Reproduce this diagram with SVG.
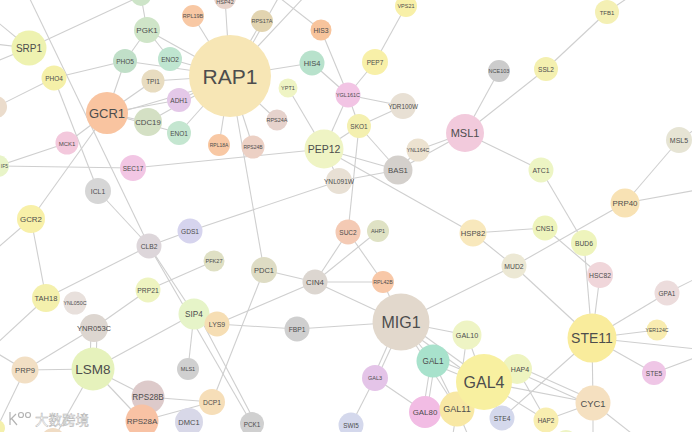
<svg xmlns="http://www.w3.org/2000/svg" width="692" height="432" viewBox="0 0 692 432">
<style>
.e line{stroke:#cfcfcf;stroke-width:1.1;fill:none}
text{font-family:"Liberation Sans",Arial,sans-serif;fill:#4d4d4d;text-anchor:middle}
.wm{font-family:"Liberation Sans","Noto Sans CJK SC",sans-serif;fill:#ffffff;stroke:#b4b4b4;stroke-width:0.5;font-size:13.5px;text-anchor:start}
.logo{fill:none;stroke:#b4b4b4;stroke-width:1.2}
</style>
<rect width="692" height="432" fill="#ffffff"/>
<g id="connectors" class="e">
<line x1="230" y1="76" x2="147" y2="30"/><line x1="230" y1="76" x2="125" y2="61"/><line x1="230" y1="76" x2="170" y2="59"/><line x1="230" y1="76" x2="153" y2="81"/><line x1="230" y1="76" x2="179" y2="100"/><line x1="230" y1="76" x2="179" y2="133"/><line x1="230" y1="76" x2="148" y2="122"/><line x1="230" y1="76" x2="193" y2="16"/><line x1="230" y1="76" x2="225" y2="-2"/><line x1="230" y1="76" x2="262" y2="21"/><line x1="234" y1="76" x2="280" y2="-5"/><line x1="230" y1="76" x2="306" y2="-5"/><line x1="230" y1="76" x2="312" y2="63"/><line x1="230" y1="76" x2="277" y2="120"/><line x1="230" y1="76" x2="219" y2="145"/><line x1="230" y1="76" x2="253" y2="147"/><line x1="230" y1="76" x2="264" y2="270"/>
<line x1="147" y1="30" x2="141" y2="-4"/><line x1="147" y1="30" x2="170" y2="59"/><line x1="147" y1="30" x2="125" y2="61"/>
<line x1="107" y1="113" x2="125" y2="61"/><line x1="107" y1="113" x2="153" y2="81"/><line x1="107" y1="116" x2="230" y2="80"/><line x1="107" y1="113" x2="179" y2="100"/><line x1="107" y1="113" x2="148" y2="122"/><line x1="107" y1="113" x2="179" y2="133"/><line x1="107" y1="113" x2="67" y2="143"/><line x1="107" y1="113" x2="31" y2="219"/>
<line x1="54" y1="78" x2="125" y2="61"/><line x1="54" y1="78" x2="-4" y2="107"/>
<line x1="29" y1="48" x2="141" y2="-4"/><line x1="29" y1="48" x2="-5" y2="20"/><line x1="29" y1="48" x2="-5" y2="44"/><line x1="29" y1="48" x2="-5" y2="62"/>
<line x1="28" y1="-5" x2="149" y2="246"/><line x1="54" y1="78" x2="98" y2="191"/>
<line x1="67" y1="143" x2="-2" y2="166"/><line x1="-2" y1="166" x2="133" y2="168"/>
<line x1="98" y1="191" x2="149" y2="246"/><line x1="149" y1="246" x2="190" y2="231"/><line x1="149" y1="246" x2="46" y2="298"/><line x1="149" y1="246" x2="194" y2="314"/><line x1="149" y1="246" x2="252" y2="424"/>
<line x1="31" y1="219" x2="46" y2="298"/><line x1="31" y1="219" x2="-5" y2="250"/><line x1="46" y1="298" x2="-5" y2="345"/>
<line x1="94" y1="328" x2="148" y2="290"/><line x1="91" y1="328" x2="90" y2="369"/><line x1="97" y1="328" x2="96" y2="369"/><line x1="94" y1="328" x2="25" y2="370"/>
<line x1="25" y1="370" x2="93" y2="369"/><line x1="25" y1="370" x2="-5" y2="352"/><line x1="25" y1="370" x2="-3" y2="428"/>
<line x1="93" y1="369" x2="194" y2="314"/><line x1="93" y1="369" x2="148" y2="397"/><line x1="93" y1="369" x2="142" y2="421"/><line x1="93" y1="369" x2="53" y2="440"/>
<line x1="148" y1="290" x2="214" y2="261"/><line x1="148" y1="397" x2="212" y2="402"/><line x1="142" y1="421" x2="212" y2="402"/>
<line x1="194" y1="314" x2="217" y2="324"/><line x1="194" y1="314" x2="188" y2="369"/><line x1="198" y1="314" x2="256" y2="424"/>
<line x1="217" y1="324" x2="297" y2="329"/><line x1="217" y1="324" x2="315" y2="282"/>
<line x1="264" y1="270" x2="212" y2="402"/><line x1="264" y1="270" x2="315" y2="282"/>
<line x1="315" y1="282" x2="401" y2="322"/><line x1="315" y1="282" x2="348" y2="232"/><line x1="315" y1="282" x2="378" y2="231"/><line x1="315" y1="282" x2="383" y2="282"/>
<line x1="348" y1="232" x2="383" y2="282"/><line x1="383" y1="282" x2="401" y2="322"/><line x1="297" y1="329" x2="401" y2="322"/>
<line x1="133" y1="168" x2="324" y2="149"/><line x1="190" y1="231" x2="339" y2="181"/>
<line x1="321" y1="30" x2="276" y2="-5"/><line x1="321" y1="30" x2="348" y2="95"/><line x1="312" y1="63" x2="348" y2="95"/>
<line x1="288" y1="88" x2="324" y2="149"/><line x1="348" y1="95" x2="324" y2="149"/><line x1="348" y1="95" x2="375" y2="62"/><line x1="375" y1="62" x2="406" y2="6"/><line x1="348" y1="95" x2="403" y2="106"/><line x1="348" y1="95" x2="359" y2="126"/>
<line x1="359" y1="126" x2="403" y2="106"/><line x1="359" y1="126" x2="324" y2="149"/><line x1="359" y1="126" x2="398" y2="170"/><line x1="359" y1="126" x2="348" y2="232"/>
<line x1="418" y1="150" x2="398" y2="170"/><line x1="418" y1="150" x2="465" y2="133"/><line x1="398" y1="170" x2="465" y2="133"/>
<line x1="324" y1="149" x2="398" y2="170"/><line x1="324" y1="149" x2="339" y2="181"/><line x1="339" y1="181" x2="398" y2="170"/><line x1="324" y1="149" x2="473" y2="233"/>
<line x1="465" y1="133" x2="499" y2="71"/><line x1="465" y1="133" x2="546" y2="69"/><line x1="546" y1="69" x2="607" y2="12"/><line x1="607" y1="12" x2="632" y2="-5"/><line x1="465" y1="133" x2="541" y2="170"/>
<line x1="541" y1="170" x2="584" y2="243"/><line x1="545" y1="228" x2="473" y2="233"/><line x1="545" y1="228" x2="600" y2="275"/>
<line x1="584" y1="243" x2="592" y2="338"/><line x1="600" y1="275" x2="592" y2="338"/>
<line x1="625" y1="203" x2="514" y2="266"/><line x1="625" y1="203" x2="679" y2="140"/><line x1="625" y1="203" x2="697" y2="190"/><line x1="679" y1="140" x2="697" y2="128"/>
<line x1="514" y1="266" x2="473" y2="233"/><line x1="514" y1="266" x2="401" y2="322"/><line x1="514" y1="266" x2="592" y2="338"/>
<line x1="592" y1="338" x2="667" y2="293"/><line x1="592" y1="338" x2="657" y2="330"/><line x1="592" y1="338" x2="654" y2="373"/><line x1="592" y1="338" x2="593" y2="403"/><line x1="592" y1="338" x2="502" y2="418"/><line x1="592" y1="338" x2="697" y2="349"/>
<line x1="654" y1="373" x2="697" y2="357"/><line x1="667" y1="293" x2="697" y2="278"/>
<line x1="517" y1="366" x2="593" y2="400"/><line x1="517" y1="372" x2="593" y2="406"/><line x1="593" y1="403" x2="546" y2="420"/><line x1="593" y1="403" x2="593" y2="440"/><line x1="593" y1="403" x2="640" y2="440"/>
<line x1="517" y1="369" x2="546" y2="420"/><line x1="484" y1="382" x2="593" y2="403"/><line x1="484" y1="382" x2="546" y2="420"/><line x1="484" y1="382" x2="517" y2="369"/>
<line x1="401" y1="322" x2="467" y2="335"/><line x1="401" y1="322" x2="433" y2="361"/><line x1="401" y1="319" x2="484" y2="379"/><line x1="401" y1="325" x2="484" y2="385"/><line x1="398" y1="322" x2="373" y2="378"/><line x1="403" y1="322" x2="377" y2="378"/><line x1="401" y1="322" x2="457" y2="409"/>
<line x1="431" y1="361" x2="423" y2="412"/><line x1="435" y1="361" x2="427" y2="412"/><line x1="433" y1="358" x2="484" y2="379"/><line x1="433" y1="364" x2="484" y2="385"/><line x1="433" y1="361" x2="457" y2="409"/>
<line x1="375" y1="378" x2="425" y2="412"/><line x1="375" y1="378" x2="351" y2="425"/>
<line x1="467" y1="335" x2="484" y2="382"/><line x1="467" y1="335" x2="457" y2="409"/><line x1="484" y1="382" x2="502" y2="418"/>
<line x1="457" y1="409" x2="452" y2="440"/><line x1="457" y1="409" x2="470" y2="440"/>
</g>
<g id="n_top1"><circle cx="141" cy="-4" r="10" fill="#cde4c8"/></g>
<g id="n_left1"><circle cx="-4" cy="107" r="11" fill="#ebdccc"/></g>
<g id="n_bl1"><circle cx="-3" cy="428" r="8" fill="#f4f0ac"/></g>
<g id="n_b2"><circle cx="53" cy="440" r="12" fill="#f0dcc4"/></g>
<g id="n_b3"><circle cx="566" cy="441" r="11" fill="#eef4c4"/></g>
<g id="RAP1"><circle cx="230" cy="76" r="41" fill="#f7e6b5"/><text x="230" y="84" font-size="21">RAP1</text></g>
<g id="GCR1"><circle cx="107" cy="113" r="21" fill="#f9c4a0"/><text x="107" y="118" font-size="13">GCR1</text></g>
<g id="SRP1"><circle cx="29" cy="48" r="17.5" fill="#eef2b0"/><text x="29" y="52" font-size="10">SRP1</text></g>
<g id="PHO4"><circle cx="54" cy="78" r="12.5" fill="#f5f0a8"/><text x="54" y="80.5" font-size="6.5">PHO4</text></g>
<g id="PGK1"><circle cx="147" cy="30" r="13" fill="#cfe5c8"/><text x="147" y="33" font-size="8">PGK1</text></g>
<g id="PHO5"><circle cx="125" cy="61" r="12" fill="#c0dfc8"/><text x="125" y="63.5" font-size="6.5">PHO5</text></g>
<g id="ENO2"><circle cx="170" cy="59" r="12" fill="#bfe5d0"/><text x="170" y="61.5" font-size="6.5">ENO2</text></g>
<g id="TPI1"><circle cx="153" cy="81" r="11.5" fill="#e8dcc0"/><text x="153" y="83.5" font-size="6.5">TPI1</text></g>
<g id="CDC19"><circle cx="148" cy="122" r="14" fill="#d4e0c4"/><text x="148" y="125" font-size="7.8">CDC19</text></g>
<g id="ADH1"><circle cx="179" cy="100" r="12" fill="#e4c8e8"/><text x="179" y="102.5" font-size="6.5">ADH1</text></g>
<g id="ENO1"><circle cx="179" cy="133" r="12" fill="#c4e6d0"/><text x="179" y="135.5" font-size="6.5">ENO1</text></g>
<g id="MCK1"><circle cx="67" cy="143" r="11.5" fill="#f3c8dc"/><text x="67" y="145.5" font-size="6">MCK1</text></g>
<g id="RPL19B"><circle cx="193" cy="16" r="11" fill="#f8c8a4"/><text x="193" y="18" font-size="5.5">RPL19B</text></g>
<g id="HSP42"><circle cx="225" cy="-2" r="11" fill="#e8d4cc"/><text x="225" y="4" font-size="5.5">HSP42</text></g>
<g id="RPS17A"><circle cx="262" cy="21" r="11" fill="#e2d4b0"/><text x="262" y="23" font-size="5.5">RPS17A</text></g>
<g id="HIS3"><circle cx="321" cy="30" r="10.5" fill="#f8c49c"/><text x="321" y="32.5" font-size="6.8">HIS3</text></g>
<g id="HIS4"><circle cx="312" cy="63" r="12.5" fill="#b8e2cc"/><text x="312" y="65.5" font-size="7.5">HIS4</text></g>
<g id="YPT1"><circle cx="288" cy="88" r="9.5" fill="#eff4c4"/><text x="288" y="90" font-size="5.5">YPT1</text></g>
<g id="RPS24A"><circle cx="277" cy="120" r="10.5" fill="#e6d2cc"/><text x="277" y="122" font-size="5.5">RPS24A</text></g>
<g id="RPL18A"><circle cx="219" cy="145" r="11" fill="#f8c8a4"/><text x="219" y="147" font-size="5">RPL18A</text></g>
<g id="RPS24B"><circle cx="253" cy="147" r="11.5" fill="#ecd0c4"/><text x="253" y="149" font-size="5">RPS24B</text></g>
<g id="PEP12"><circle cx="324" cy="149" r="19.5" fill="#eff4c4"/><text x="324" y="153" font-size="10.5">PEP12</text></g>
<g id="YGL161C"><circle cx="348" cy="95" r="12.5" fill="#f2c4e4"/><text x="348" y="97" font-size="5.5">YGL161C</text></g>
<g id="PEP7"><circle cx="375" cy="62" r="13" fill="#f8f0a8"/><text x="375" y="64.5" font-size="6.5">PEP7</text></g>
<g id="VPS21"><circle cx="406" cy="6" r="11" fill="#f8f0a8"/><text x="406" y="8" font-size="5.5">VPS21</text></g>
<g id="YDR100W"><circle cx="403" cy="106" r="13" fill="#e8e0d4"/><text x="403" y="108.5" font-size="6.3">YDR100W</text></g>
<g id="SKO1"><circle cx="359" cy="126" r="12" fill="#f4f0b0"/><text x="359" y="128.5" font-size="6.5">SKO1</text></g>
<g id="NCE103"><circle cx="499" cy="71" r="11" fill="#cccccc"/><text x="499" y="73" font-size="5.5">NCE103</text></g>
<g id="MSL1"><circle cx="465" cy="133" r="19" fill="#f2cadc"/><text x="465" y="137" font-size="11">MSL1</text></g>
<g id="TFB1"><circle cx="607" cy="12" r="12" fill="#f4f0b4"/><text x="607" y="14.5" font-size="6">TFB1</text></g>
<g id="SSL2"><circle cx="546" cy="69" r="12" fill="#f4f0b0"/><text x="546" y="71.5" font-size="6.5">SSL2</text></g>
<g id="MSL5"><circle cx="679" cy="140" r="13" fill="#e6e4d4"/><text x="679" y="142.5" font-size="7">MSL5</text></g>
<g id="YNL164C"><circle cx="418" cy="150" r="11.5" fill="#ece2d0"/><text x="418" y="152" font-size="5.2">YNL164C</text></g>
<g id="BAS1"><circle cx="398" cy="170" r="14.5" fill="#d4d0cc"/><text x="398" y="173" font-size="7.8">BAS1</text></g>
<g id="YNL091W"><circle cx="339" cy="181" r="13" fill="#e8e0d4"/><text x="339" y="183.5" font-size="6.6">YNL091W</text></g>
<g id="SUC2"><circle cx="348" cy="232" r="12.5" fill="#f4cab4"/><text x="348" y="234.5" font-size="6.5">SUC2</text></g>
<g id="AHP1"><circle cx="378" cy="231" r="11" fill="#dfe2c4"/><text x="378" y="233" font-size="5.4">AHP1</text></g>
<g id="RPL42B"><circle cx="383" cy="282" r="11" fill="#f8c8a8"/><text x="383" y="284" font-size="5.3">RPL42B</text></g>
<g id="HSP82"><circle cx="473" cy="233" r="13.5" fill="#f8e8bc"/><text x="473" y="236" font-size="7.7">HSP82</text></g>
<g id="MUD2"><circle cx="514" cy="266" r="12.5" fill="#ece8d4"/><text x="514" y="268.5" font-size="6.8">MUD2</text></g>
<g id="ATC1"><circle cx="541" cy="170" r="12.5" fill="#edf5c4"/><text x="541" y="172.5" font-size="6.9">ATC1</text></g>
<g id="PRP40"><circle cx="625" cy="203" r="14.5" fill="#f8e2b4"/><text x="625" y="206" font-size="7.9">PRP40</text></g>
<g id="CNS1"><circle cx="545" cy="228" r="12.5" fill="#eef4bc"/><text x="545" y="230.5" font-size="6.9">CNS1</text></g>
<g id="BUD6"><circle cx="584" cy="243" r="13" fill="#eef4bc"/><text x="584" y="245.5" font-size="6.7">BUD6</text></g>
<g id="HSC82"><circle cx="600" cy="275" r="13" fill="#f0d6da"/><text x="600" y="277.5" font-size="6.8">HSC82</text></g>
<g id="GPA1"><circle cx="667" cy="293" r="12.5" fill="#ecdcdc"/><text x="667" y="295.5" font-size="6.5">GPA1</text></g>
<g id="YER124C"><circle cx="657" cy="330" r="10.5" fill="#f8ecb0"/><text x="657" y="332" font-size="5.2">YER124C</text></g>
<g id="STE11"><circle cx="592" cy="338" r="24.5" fill="#f9ec9c"/><text x="592" y="343" font-size="14">STE11</text></g>
<g id="STE5"><circle cx="654" cy="373" r="12" fill="#efc6e6"/><text x="654" y="375.5" font-size="6.6">STE5</text></g>
<g id="CYC1"><circle cx="593" cy="403" r="17.5" fill="#f5e0c0"/><text x="593" y="406.5" font-size="9.4">CYC1</text></g>
<g id="HAP2"><circle cx="546" cy="420" r="12.5" fill="#f8eeb0"/><text x="546" y="422.5" font-size="6.4">HAP2</text></g>
<g id="HAP4"><circle cx="517" cy="369" r="15" fill="#eef4c0"/><text x="520" y="371.5" font-size="7">HAP4</text></g>
<g id="MIG1"><circle cx="401" cy="322" r="28.5" fill="#e2d8cc"/><text x="401" y="328" font-size="16">MIG1</text></g>
<g id="GAL10"><circle cx="467" cy="335" r="14.5" fill="#eef4c4"/><text x="467" y="337.5" font-size="7.2">GAL10</text></g>
<g id="GAL1"><circle cx="433" cy="361" r="16.5" fill="#a8e2cc"/><text x="433" y="364" font-size="8.2">GAL1</text></g>
<g id="GAL3"><circle cx="375" cy="378" r="13" fill="#e4c4e8"/><text x="375" y="380" font-size="5.5">GAL3</text></g>
<g id="GAL80"><circle cx="425" cy="412" r="16" fill="#f2bce4"/><text x="425" y="415" font-size="7.9">GAL80</text></g>
<g id="GAL11"><circle cx="457" cy="409" r="17.5" fill="#f8e8a4"/><text x="457" y="412" font-size="9">GAL11</text></g>
<g id="STE4"><circle cx="502" cy="418" r="12.5" fill="#d4d8ec"/><text x="502" y="420.5" font-size="6.7">STE4</text></g>
<g id="GAL4"><circle cx="484" cy="382" r="28" fill="#f8f0a0"/><text x="484" y="388" font-size="16">GAL4</text></g>
<g id="SWI5"><circle cx="351" cy="425" r="12.5" fill="#d4d8ec"/><text x="351" y="427.5" font-size="6.3">SWI5</text></g>
<g id="CIN4"><circle cx="315" cy="282" r="12.5" fill="#dcd6d0"/><text x="315" y="285" font-size="7.8">CIN4</text></g>
<g id="PDC1"><circle cx="264" cy="270" r="13" fill="#dedcc4"/><text x="264" y="273" font-size="7.5">PDC1</text></g>
<g id="GDS1"><circle cx="190" cy="231" r="12.5" fill="#d6d4ee"/><text x="190" y="233.5" font-size="6.6">GDS1</text></g>
<g id="PFK27"><circle cx="214" cy="261" r="10.5" fill="#dfe0c4"/><text x="214" y="263" font-size="5.6">PFK27</text></g>
<g id="FBP1"><circle cx="297" cy="329" r="12.5" fill="#cfcfcf"/><text x="297" y="331.5" font-size="6.7">FBP1</text></g>
<g id="SIP4"><circle cx="194" cy="314" r="15.5" fill="#e6f4c8"/><text x="194" y="317" font-size="8.2">SIP4</text></g>
<g id="LYS9"><circle cx="217" cy="324" r="12.5" fill="#f6deb4"/><text x="217" y="326.5" font-size="6.9">LYS9</text></g>
<g id="MLS1"><circle cx="188" cy="369" r="11" fill="#d0d0d0"/><text x="188" y="371" font-size="5.5">MLS1</text></g>
<g id="DCP1"><circle cx="212" cy="402" r="13" fill="#f6deb8"/><text x="212" y="404.5" font-size="6.7">DCP1</text></g>
<g id="DMC1"><circle cx="189" cy="422" r="14" fill="#d8d8e8"/><text x="189" y="425" font-size="7.5">DMC1</text></g>
<g id="PCK1"><circle cx="252" cy="424" r="12" fill="#d0d0d0"/><text x="252" y="426.5" font-size="6.4">PCK1</text></g>
<g id="CLB2"><circle cx="149" cy="246" r="12.5" fill="#ddd6da"/><text x="149" y="248.5" font-size="6.7">CLB2</text></g>
<g id="ICL1"><circle cx="98" cy="191" r="13" fill="#d6d6d6"/><text x="98" y="193.5" font-size="6.8">ICL1</text></g>
<g id="SEC17"><circle cx="133" cy="168" r="13" fill="#f2c6e4"/><text x="133" y="170.5" font-size="6.5">SEC17</text></g>
<g id="IF5"><circle cx="-2" cy="166" r="11" fill="#e8f4c8"/><text x="8" y="168" font-size="5" style="text-anchor:end">IF5</text></g>
<g id="GCR2"><circle cx="31" cy="219" r="14" fill="#f8f0a8"/><text x="31" y="222" font-size="7.9">GCR2</text></g>
<g id="TAH18"><circle cx="46" cy="298" r="14" fill="#f4f0ac"/><text x="46" y="300.5" font-size="7.5">TAH18</text></g>
<g id="YNL050C"><circle cx="75" cy="303" r="11.5" fill="#e8e0dc"/><text x="75" y="305" font-size="5.3">YNL050C</text></g>
<g id="YNR053C"><circle cx="94" cy="328" r="14" fill="#ddd6d0"/><text x="94" y="330.5" font-size="7.6">YNR053C</text></g>
<g id="PRP21"><circle cx="148" cy="290" r="12.5" fill="#eef4c0"/><text x="148" y="292.5" font-size="6.8">PRP21</text></g>
<g id="LSM8"><circle cx="93" cy="369" r="21.5" fill="#e6f2bc"/><text x="93" y="374" font-size="13.5">LSM8</text></g>
<g id="PRP9"><circle cx="25" cy="370" r="13.5" fill="#f2dfc4"/><text x="25" y="372.5" font-size="7.6">PRP9</text></g>
<g id="RPS28B"><circle cx="148" cy="397" r="16.5" fill="#ddcaca"/><text x="148" y="400" font-size="8.2">RPS28B</text></g>
<g id="RPS28A"><circle cx="142" cy="421" r="16.5" fill="#f8c2a4"/><text x="142" y="424" font-size="8">RPS28A</text></g>
<g id="watermark"><path class="logo" d="M10 412 V425 M10 420 L16 414 M12 419 L17 425"/><circle class="logo" cx="21" cy="415" r="2.5"/><circle class="logo" cx="28" cy="415" r="2.5"/><text class="wm" x="35" y="425">大数跨境</text></g>
</svg>
